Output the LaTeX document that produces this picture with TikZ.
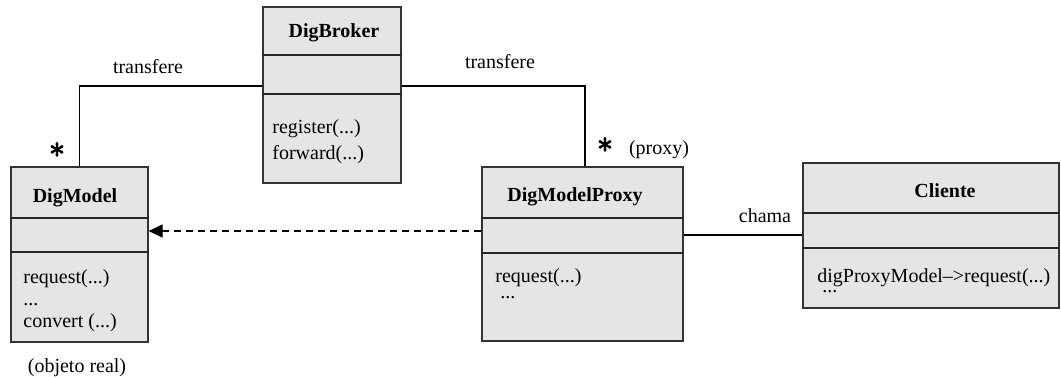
\documentclass[tikz,border=0pt]{standalone}
\usepackage{fontspec}
\setmainfont{Liberation Serif}
\newfontfamily\starfont[FakeBold=3]{latinmodern-math.otf}
\usetikzlibrary{arrows.meta}
\begin{document}
\begin{tikzpicture}[x=0.5pt,y=-0.5pt,
  cls/.style={draw=black!80,fill=black!10,line width=0.6pt,inner sep=0pt},
  txt/.style={inner sep=0pt,anchor=base west,font=\fontsize{10}{12}\selectfont},
  ttl/.style={inner sep=0pt,anchor=base,font=\fontsize{10}{12}\selectfont\bfseries},
  lbl/.style={inner sep=0pt,anchor=base,font=\fontsize{10}{12}\selectfont},
  star/.style={inner sep=0pt,font=\fontsize{16}{16}\starfont},
  conn/.style={line width=0.6pt},
  div/.style={draw=black!85,line width=0.6pt}]
\useasboundingbox (0,0) rectangle (1061,377);
% boxes
\node[cls,minimum width=68.5pt,minimum height=87.5pt] (m) at (79.5,254.5) {};
\node[cls,minimum width=69pt,minimum height=88pt] (b) at (332,95) {};
\node[cls,minimum width=100.5pt,minimum height=87pt] (p) at (582.5,254) {};
\node[cls,minimum width=128pt,minimum height=72.5pt] (c) at (931,235.5) {};
% dividers
\draw[div] (m.west |- 0,218) -- (m.east |- 0,218);
\draw[div] (m.west |- 0,252) -- (m.east |- 0,252);
\draw[div] (b.west |- 0,55) -- (b.east |- 0,55);
\draw[div] (b.west |- 0,94) -- (b.east |- 0,94);
\draw[div] (p.west |- 0,218) -- (p.east |- 0,218);
\draw[div] (p.west |- 0,253) -- (p.east |- 0,253);
\draw[div] (c.west |- 0,213) -- (c.east |- 0,213);
\draw[div] (c.west |- 0,248) -- (c.east |- 0,248);
% titles
\node[ttl] (mt) at (75,202) {DigModel};
\node[ttl] (bt) at (334,37) {DigBroker};
\node[ttl] (pt) at (575,201) {DigModelProxy};
\node[ttl] (ct) at (945,197) {Cliente};
% operations
\node[txt] (m1) at (23,283) {request(...)};
\node[txt] (m2) at (23,305) {...};
\node[txt] (m3) at (23,327) {convert (...)};
\node[txt] (b1) at (272,133) {register(...)};
\node[txt] (b2) at (272,159) {forward(...)};
\node[txt] (p1) at (495,282) {request(...)};
\node[txt] (p2) at (500,298) {...};
\node[txt] (c1) at (817,282) {digProxyModel{\char"2013}>request(...)};
\node[txt] (c2) at (822,292) {...};
% connectors
\draw[conn] (m.north) |- ([yshift=4.5pt]b.west);
\draw[conn] ([yshift=4.5pt]b.east) -| ([xshift=1.25pt]p.north);
\draw[conn,dashed,dash pattern=on 3.5pt off 2.5pt,-{Triangle[length=7pt,width=6.5pt]}] (p.west |- 0,231) -- (m.east |- 0,231);
\draw[conn] (p.east |- 0,235) -- (c.west |- 0,235);
% labels
\node[lbl] (l1) at (148,73) {transfere};
\node[lbl] (l2) at (500,68) {transfere};
\node[lbl] (l3) at (765,222) {chama};
\node[lbl] (l4) at (659,154) {(proxy)};
\node[lbl] (l5) at (77,372) {(objeto real)};
\node[star] (s1) at (57,150) {∗};
\node[star] (s2) at (605,145) {∗};
\end{tikzpicture}
\end{document}
